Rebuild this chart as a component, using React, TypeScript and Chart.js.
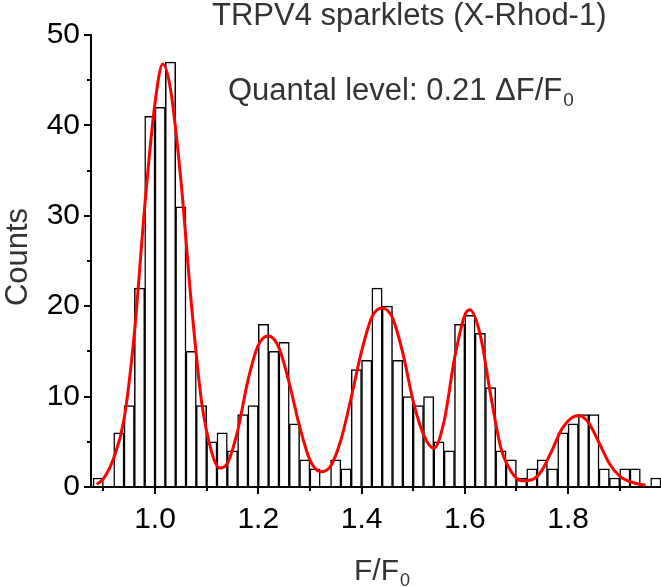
import React, { useEffect, useRef } from 'react';
import { Chart, registerables } from 'chart.js';

Chart.register(...registerables);

// Histogram bins (bin centres, width 0.02) and counts
const binCenters = [
  0.89, 0.91, 0.93, 0.95, 0.97, 0.99, 1.01, 1.03, 1.05, 1.07,
  1.09, 1.11, 1.13, 1.15, 1.17, 1.19, 1.21, 1.23, 1.25, 1.27,
  1.29, 1.31, 1.33, 1.35, 1.37, 1.39, 1.41, 1.43, 1.45, 1.47,
  1.49, 1.51, 1.53, 1.55, 1.57, 1.59, 1.61, 1.63, 1.65, 1.67,
  1.69, 1.71, 1.73, 1.75, 1.77, 1.79, 1.81, 1.83, 1.85, 1.87,
  1.89, 1.91, 1.93, 1.95, 1.97,
];
const counts = [
  1, 0, 6, 9, 22, 41, 42, 47, 31, 15,
  9, 5, 6, 4, 8, 9, 18, 15, 16, 7,
  3, 2, 0, 3, 2, 13, 14, 22, 20, 14,
  10, 9, 10, 5, 4, 18, 19, 17, 11, 4,
  3, 1, 2, 3, 2, 6, 7, 8, 8, 2,
  1, 2, 2, 0, 1,
];

// Multi-peak fit curve
const fitX = [
  0.887, 0.9, 0.92, 0.94, 0.96, 0.98, 1.0, 1.015, 1.03, 1.05,
  1.07, 1.09, 1.11, 1.125, 1.14, 1.16, 1.18, 1.2, 1.22, 1.24,
  1.26, 1.28, 1.3, 1.32, 1.34, 1.36, 1.38, 1.4, 1.42, 1.44,
  1.46, 1.48, 1.5, 1.52, 1.54, 1.56, 1.58, 1.6, 1.61, 1.63,
  1.65, 1.67, 1.69, 1.71, 1.73, 1.75, 1.77, 1.79, 1.82, 1.84,
  1.86, 1.88, 1.9, 1.925, 1.95,
];
const fitY = [
  0.3, 0.9, 3.2, 7.5, 17, 31, 42.5, 46.8, 44, 34,
  20.5, 9.5, 3.8, 2.1, 2.6, 6.2, 11.8, 15.7, 16.7, 15.4,
  11.5, 6.7, 3.0, 1.7, 2.3, 5.2, 9.9, 15.0, 18.8, 19.8,
  18.7, 14.8, 9.5, 5.8, 4.3, 7.3, 14.2, 19.0, 19.6, 16.8,
  10.2, 4.3, 1.7, 0.7, 0.8, 1.9, 4.2, 6.6, 7.9, 7.1,
  4.9, 2.6, 1.2, 0.5, 0.2,
];

const xTickValues = [1.0, 1.2, 1.4, 1.6, 1.8];
const xMinorTicks = [0.9, 1.1, 1.3, 1.5, 1.7, 1.9];
const yTickValues = [0, 10, 20, 30, 40, 50];
const yMinorTicks = [5, 15, 25, 35, 45];

const titleText = 'TRPV4 sparklets (X-Rhod-1)';
const quantalText = 'Quantal level: 0.21 ΔF/F';
const quantalSub = '0';
const xTitleText = 'F/F';
const xTitleSub = '0';
const yTitleText = 'Counts';

const FONT = '"Liberation Sans", Arial, sans-serif';

const decorPlugin = {
  id: 'decor',
  afterDraw(chart: any) {
    const { ctx, chartArea, scales } = chart;
    ctx.save();
    // minor ticks
    ctx.strokeStyle = '#000';
    ctx.lineWidth = 2;
    xMinorTicks.forEach((v) => {
      const px = Math.round(scales.x.getPixelForValue(v));
      ctx.beginPath();
      ctx.moveTo(px, chartArea.bottom);
      ctx.lineTo(px, chartArea.bottom + 4);
      ctx.stroke();
    });
    yMinorTicks.forEach((v) => {
      const py = Math.round(scales.y.getPixelForValue(v));
      ctx.beginPath();
      ctx.moveTo(chartArea.left, py);
      ctx.lineTo(chartArea.left - 4, py);
      ctx.stroke();
    });

    ctx.fillStyle = '#333';
    ctx.textBaseline = 'alphabetic';

    // title
    ctx.font = `31px ${FONT}`;
    ctx.textAlign = 'left';
    ctx.fillText(titleText, 212, 25);

    // quantal level
    ctx.font = `31px ${FONT}`;
    const qx = 228;
    ctx.fillText(quantalText, qx, 100);
    const qw = ctx.measureText(quantalText).width;
    ctx.font = `19px ${FONT}`;
    ctx.fillText(quantalSub, qx + qw + 1, 106);

    // x title
    ctx.font = `30px ${FONT}`;
    const xw = ctx.measureText(xTitleText).width;
    ctx.font = `18px ${FONT}`;
    const sw = ctx.measureText(xTitleSub).width;
    const xc = 382;
    const x0 = xc - (xw + sw + 1) / 2;
    ctx.font = `30px ${FONT}`;
    ctx.fillText(xTitleText, x0, 580);
    ctx.font = `18px ${FONT}`;
    ctx.fillText(xTitleSub, x0 + xw + 1, 586);

    // y title
    ctx.font = `31px ${FONT}`;
    ctx.translate(27, 257);
    ctx.rotate(-Math.PI / 2);
    ctx.textAlign = 'center';
    ctx.fillText(yTitleText, 0, 0);
    ctx.restore();
  },
};

export default function App() {
  const canvasRef = useRef<HTMLCanvasElement | null>(null);

  useEffect(() => {
    document.body.style.margin = '0';
    const canvas = canvasRef.current;
    if (!canvas) return;
    const chart = new Chart(canvas, {
      type: 'bar',
      data: {
        datasets: [
          {
            type: 'line',
            data: fitX.map((x, i) => ({ x, y: fitY[i] })),
            borderColor: '#ff0000',
            borderWidth: 3,
            pointRadius: 0,
            fill: false,
            cubicInterpolationMode: 'monotone',
            order: 0,
          } as any,
          {
            type: 'bar',
            data: binCenters.map((x, i) => ({ x, y: counts[i] })),
            backgroundColor: '#ffffff',
            borderColor: '#000000',
            borderWidth: 1.5,
            barPercentage: 1,
            categoryPercentage: 1,
            order: 1,
          } as any,
        ],
      },
      options: {
        responsive: false,
        animation: false,
        devicePixelRatio: 1,
        layout: { padding: { top: 35, right: 0, left: 0, bottom: 0 } },
        plugins: {
          legend: { display: false },
          tooltip: { enabled: false },
          title: { display: false },
        },
        scales: {
          x: {
            type: 'linear',
            offset: false,
            min: 0.876,
            max: 1.98,
            afterFit: (scale: any) => {
              scale.height = 100;
            },
            afterBuildTicks: (scale: any) => {
              scale.ticks = xTickValues.map((v) => ({ value: v }));
            },
            grid: {
              display: true,
              offset: false,
              drawOnChartArea: false,
              drawTicks: true,
              tickLength: 7,
              color: '#000',
              lineWidth: 2,
            },
            border: { display: true, color: '#000', width: 2 },
            ticks: {
              color: '#000',
              padding: 8,
              font: { family: FONT, size: 30 },
              maxRotation: 0,
              autoSkip: false,
              callback: (v: any) => Number(v).toFixed(1),
            },
          },
          y: {
            type: 'linear',
            min: 0,
            max: 50,
            afterFit: (scale: any) => {
              scale.width = 91;
            },
            afterBuildTicks: (scale: any) => {
              scale.ticks = yTickValues.map((v) => ({ value: v }));
            },
            grid: {
              display: true,
              drawOnChartArea: false,
              drawTicks: true,
              tickLength: 7,
              color: '#000',
              lineWidth: 2,
            },
            border: { display: true, color: '#000', width: 2 },
            ticks: {
              color: '#000',
              padding: 4,
              font: { family: FONT, size: 30 },
              autoSkip: false,
              callback: (v: any) => String(v),
            },
          },
        },
      },
      plugins: [decorPlugin],
    });
    return () => chart.destroy();
  }, []);

  return (
    <div style={{ position: 'absolute', left: 0, top: 0, width: 661, height: 587, background: '#fff' }}>
      <canvas ref={canvasRef} width={661} height={587} style={{ width: 661, height: 587, display: 'block' }} />
    </div>
  );
}
